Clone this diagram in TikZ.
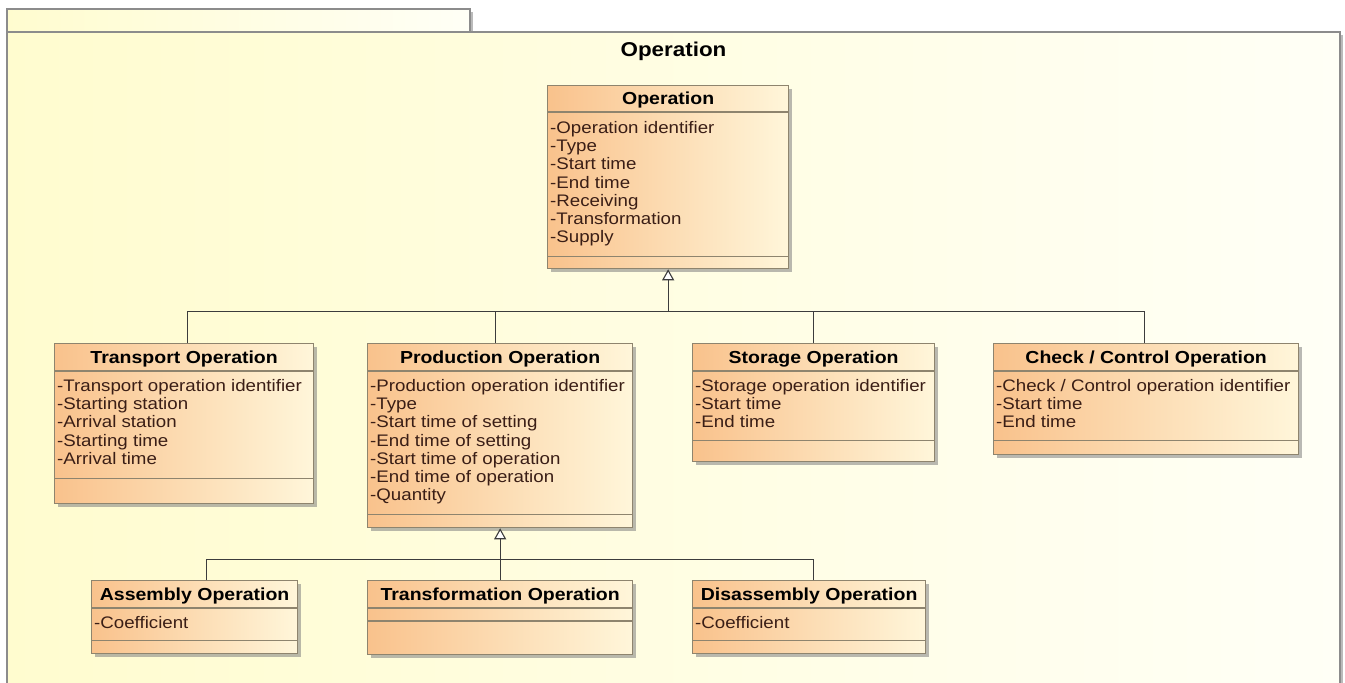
\documentclass[tikz,border=0pt]{standalone}
\usepackage{fontspec}
\setmainfont{Liberation Sans}[FakeStretch=1.12]
\usetikzlibrary{positioning, calc, arrows.meta, shadows}

\definecolor{framefill}{HTML}{FFFCCF}
\definecolor{framelight}{HTML}{FFFFF6}
\definecolor{frameline}{HTML}{8C8C8C}
\definecolor{classdark}{HTML}{F9C28C}
\definecolor{classlight}{HTML}{FFF6DA}
\definecolor{classline}{HTML}{8E846E}
\definecolor{attrtext}{HTML}{3A1E16}
\definecolor{linkline}{HTML}{3C3C3C}

\newcommand{\umltitle}{\fontsize{20}{24}\selectfont\bfseries}
\newcommand{\umlhead}{\fontsize{17.4}{20}\selectfont\bfseries}
\newcommand{\umlattr}{\fontsize{16.7}{18.3}\selectfont}

\tikzset{
  pkgframe/.style={draw=frameline, line width=1.5pt, left color=framefill, right color=framelight,
    drop shadow={shadow xshift=2.5pt, shadow yshift=-2.5pt, fill=black!45, opacity=0.6}},
  classbox/.style={rectangle, draw=classline, line width=1.3pt, left color=classdark, right color=classlight,
    drop shadow={shadow xshift=3pt, shadow yshift=-3pt, fill=black!50, opacity=0.55},
    inner sep=0pt, anchor=north west},
  classname/.style={font=\umlhead, anchor=base, inner sep=0pt},
  attrs/.style={font=\umlattr, text=attrtext, align=left, anchor=north west, inner sep=0pt},
  sepline/.style={draw=classline, line width=1.1pt},
  link/.style={draw=linkline, line width=1.3pt},
  gen/.style={link, -{Triangle[open, fill=white, length=11pt, width=12pt, line width=1.1pt]}}
}

\begin{document}
\begin{tikzpicture}[x=1pt, y=-1pt]
\useasboundingbox (0,0) rectangle (1345,683);
\clip (0,0) rectangle (1345,683);
\fill[white] (0,0) rectangle (1345,683);

% package frame
\path[pkgframe] (7,9) rectangle (470,32);
\path[pkgframe] (7,32) rectangle (1340,700);
\node[font=\umltitle, anchor=base] (pkgname) at (673.5,56) {Operation};

% classes
\node[classbox, minimum width=241pt, minimum height=183pt] (op) at (547,85) {};
\node[classbox, minimum width=259pt, minimum height=160pt] (trans) at (54,343) {};
\node[classbox, minimum width=265pt, minimum height=184pt] (prod) at (367,343) {};
\node[classbox, minimum width=242pt, minimum height=118pt] (stor) at (692,343) {};
\node[classbox, minimum width=305pt, minimum height=111pt] (check) at (993,343) {};
\node[classbox, minimum width=206pt, minimum height=73pt] (asm) at (91,580) {};
\node[classbox, minimum width=265pt, minimum height=74pt] (transf) at (367,580) {};
\node[classbox, minimum width=233pt, minimum height=73pt] (disasm) at (692,580) {};

% compartments
\draw[sepline] ($(op.north west)+(0,27)$) -- ($(op.north east)+(0,27)$);
\draw[sepline] ($(op.south west)+(0,-13)$) -- ($(op.south east)+(0,-13)$);
\draw[sepline] ($(trans.north west)+(0,28)$) -- ($(trans.north east)+(0,28)$);
\draw[sepline] ($(trans.south west)+(0,-26)$) -- ($(trans.south east)+(0,-26)$);
\draw[sepline] ($(prod.north west)+(0,28)$) -- ($(prod.north east)+(0,28)$);
\draw[sepline] ($(prod.south west)+(0,-14)$) -- ($(prod.south east)+(0,-14)$);
\draw[sepline] ($(stor.north west)+(0,28)$) -- ($(stor.north east)+(0,28)$);
\draw[sepline] ($(stor.south west)+(0,-22)$) -- ($(stor.south east)+(0,-22)$);
\draw[sepline] ($(check.north west)+(0,28)$) -- ($(check.north east)+(0,28)$);
\draw[sepline] ($(check.south west)+(0,-15)$) -- ($(check.south east)+(0,-15)$);
\draw[sepline] ($(asm.north west)+(0,28)$) -- ($(asm.north east)+(0,28)$);
\draw[sepline] ($(asm.south west)+(0,-14)$) -- ($(asm.south east)+(0,-14)$);
\draw[sepline] ($(transf.north west)+(0,28)$) -- ($(transf.north east)+(0,28)$);
\draw[sepline] ($(transf.north west)+(0,41)$) -- ($(transf.north east)+(0,41)$);
\draw[sepline] ($(disasm.north west)+(0,28)$) -- ($(disasm.north east)+(0,28)$);
\draw[sepline] ($(disasm.south west)+(0,-14)$) -- ($(disasm.south east)+(0,-14)$);

% class names
\node[classname] (opname) at ($(op.north)+(0,19.7)$) {Operation};
\node[classname] (transname) at ($(trans.north)+(0,20)$) {Transport Operation};
\node[classname] (prodname) at ($(prod.north)+(0,20)$) {Production Operation};
\node[classname] (storname) at ($(stor.north)+(0,20)$) {Storage Operation};
\node[classname] (checkname) at ($(check.north)+(0,20)$) {Check / Control Operation};
\node[classname] (asmname) at ($(asm.north)+(0,20)$) {Assembly Operation};
\node[classname] (transfname) at ($(transf.north)+(0,20)$) {Transformation Operation};
\node[classname] (disasmname) at ($(disasm.north)+(0,20)$) {Disassembly Operation};

% attributes
\node[attrs] (opattrs) at ($(op.north west)+(3,35.8)$)
  {-Operation identifier\\-Type\\-Start time\\-End time\\-Receiving\\-Transformation\\-Supply};
\node[attrs] (transattrs) at ($(trans.north west)+(3,35.8)$)
  {-Transport operation identifier\\-Starting station\\-Arrival station\\-Starting time\\-Arrival time};
\node[attrs] (prodattrs) at ($(prod.north west)+(3,35.8)$)
  {-Production operation identifier\\-Type\\-Start time of setting\\-End time of setting\\-Start time of operation\\-End time of operation\\-Quantity};
\node[attrs] (storattrs) at ($(stor.north west)+(3,35.8)$)
  {-Storage operation identifier\\-Start time\\-End time};
\node[attrs] (checkattrs) at ($(check.north west)+(3,35.8)$)
  {-Check / Control operation identifier\\-Start time\\-End time};
\node[attrs] (asmattrs) at ($(asm.north west)+(3,35.8)$) {-Coefficient};
\node[attrs] (disasmattrs) at ($(disasm.north west)+(3,35.8)$) {-Coefficient};

% generalizations
\coordinate (opjoin) at ($(op.south)+(0,42)$);
\draw[gen] (opjoin) -- (op.south);
\draw[link] ([xshift=3pt]trans.north) |- (opjoin);
\draw[link] ([xshift=-2pt]check.north) |- (opjoin);
\draw[link] ([xshift=-5pt]prod.north) -- ([xshift=-5pt]prod.north |- opjoin);
\draw[link] (stor.north) -- (stor.north |- opjoin);

\coordinate (prodjoin) at ($(prod.south)+(0,31)$);
\draw[gen] (prodjoin) -- (prod.south);
\draw[link] ([xshift=12pt]asm.north) |- (prodjoin);
\draw[link] ([xshift=4pt]disasm.north) |- (prodjoin);
\draw[link] (transf.north) -- (transf.north |- prodjoin);
\end{tikzpicture}
\end{document}
